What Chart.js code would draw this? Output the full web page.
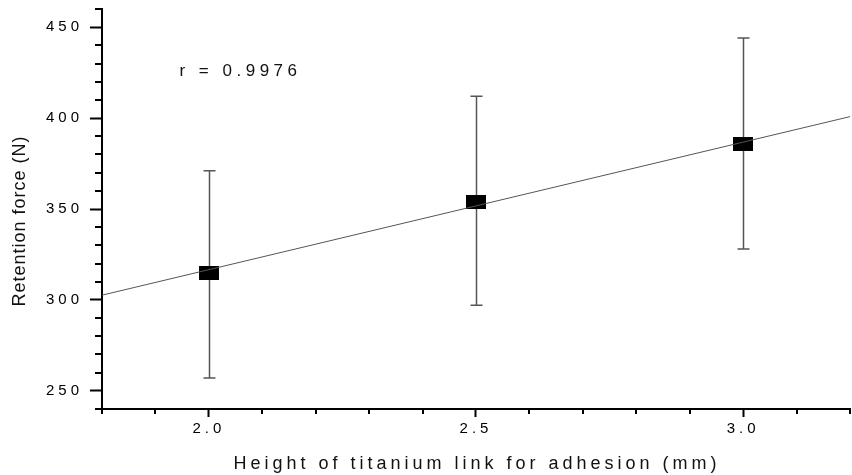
<!DOCTYPE html>
<html>
<head>
<meta charset="utf-8">
<script src="https://cdn.jsdelivr.net/npm/chart.js@4/dist/chart.umd.min.js"></script>
<style>
  html, body { margin: 0; padding: 0; background: #fff; }
  canvas { display: block; }
</style>
</head>
<body>
<canvas id="chart" width="852" height="475"></canvas>
<script>
// 데이터
const heights = [2.0, 2.5, 3.0];
const meanForce = [315, 354, 386];
const errLow = [257, 297, 328];
const errHigh = [371, 412, 444];

// 회귀선 양 끝점
const fitX = [1.8, 3.2];
const fitY = [302.6, 400.8];

// 축 눈금
const xMajor = [2.0, 2.5, 3.0];
const xMinor = [1.8, 1.9, 2.1, 2.2, 2.3, 2.4, 2.6, 2.7, 2.8, 2.9, 3.1, 3.2];
const yMajor = [250, 300, 350, 400, 450];
const yMinor = [240, 260, 270, 280, 290, 310, 320, 330, 340, 360, 370, 380, 390, 410, 420, 430, 440, 460];

const xTitle = 'Height of titanium link for adhesion (mm)';
const yTitle = 'Retention force (N)';
const rLabel = 'r = 0.9976';

const FONT = '"Liberation Sans", Arial, sans-serif';

// 사각형 마커 (20x14)
const marker = document.createElement('canvas');
marker.width = 20;
marker.height = 14;
const mctx = marker.getContext('2d');
mctx.fillStyle = '#000';
mctx.fillRect(0, 0, 20, 14);

// 에러바 + 보조 눈금 + 텍스트
const extrasPlugin = {
    id: 'extras',
    beforeDraw(chart) {
        chart.ctx.letterSpacing = '4px';
    },
    beforeDatasetsDraw(chart) {
        const ctx = chart.ctx;
        const xs = chart.scales.x, ys = chart.scales.y;
        ctx.save();
        ctx.strokeStyle = '#555';
        ctx.lineWidth = 1.5;
        heights.forEach((h, i) => {
            const px = Math.round(xs.getPixelForValue(h)) + 0.5;
            const top = ys.getPixelForValue(errHigh[i]);
            const bot = ys.getPixelForValue(errLow[i]);
            ctx.beginPath();
            ctx.moveTo(px, top); ctx.lineTo(px, bot);
            ctx.moveTo(px - 6, top); ctx.lineTo(px + 6, top);
            ctx.moveTo(px - 6, bot); ctx.lineTo(px + 6, bot);
            ctx.stroke();
        });
        ctx.restore();
    },
    afterDraw(chart) {
        const ctx = chart.ctx;
        const xs = chart.scales.x, ys = chart.scales.y;
        const area = chart.chartArea;
        ctx.save();
        ctx.strokeStyle = '#000';
        ctx.lineWidth = 2;
        ctx.beginPath();
        yMinor.forEach(v => {
            const py = Math.round(ys.getPixelForValue(v));
            ctx.moveTo(area.left - 7, py); ctx.lineTo(area.left, py);
        });
        xMinor.forEach(v => {
            const px = Math.round(xs.getPixelForValue(v));
            ctx.moveTo(px, area.bottom); ctx.lineTo(px, area.bottom + 5);
        });
        ctx.stroke();

        ctx.fillStyle = '#111';
        // r 값
        ctx.letterSpacing = '4.5px';
        ctx.font = '17px ' + FONT;
        ctx.textAlign = 'left';
        ctx.textBaseline = 'middle';
        ctx.fillText(rLabel, xs.getPixelForValue(1.945), ys.getPixelForValue(425.5));

        // x 축 제목
        ctx.letterSpacing = '4px';
        ctx.font = '18px ' + FONT;
        ctx.textAlign = 'center';
        ctx.fillText(xTitle, 477, 464);

        // y 축 제목
        ctx.letterSpacing = '1px';
        ctx.translate(20, 221);
        ctx.rotate(-Math.PI / 2);
        ctx.fillText(yTitle, 0, 0);
        ctx.restore();
    }
};

new Chart(document.getElementById('chart'), {
    type: 'scatter',
    data: {
        datasets: [
            {
                type: 'line',
                label: 'fit',
                data: fitX.map((x, i) => ({ x: x, y: fitY[i] })),
                borderColor: '#555',
                borderWidth: 1,
                pointRadius: 0,
                fill: false
            },
            {
                label: 'retention',
                data: heights.map((h, i) => ({ x: h, y: meanForce[i] })),
                pointStyle: marker,
                pointRadius: 10,
                backgroundColor: '#000',
                borderColor: '#000'
            }
        ]
    },
    options: {
        responsive: false,
        devicePixelRatio: 1,
        animation: false,
        layout: { autoPadding: false, padding: { left: 0, top: 9, right: 2, bottom: 0 } },
        plugins: {
            legend: { display: false },
            tooltip: { enabled: false }
        },
        scales: {
            x: {
                type: 'linear',
                min: 1.8,
                max: 3.2,
                afterBuildTicks: s => { s.ticks = xMajor.map(v => ({ value: v })); },
                afterFit: s => { s.height = 66; s.paddingLeft = 0; s.paddingRight = 0; },
                border: { display: true, color: '#000', width: 2 },
                grid: { drawOnChartArea: false, tickLength: 8, tickWidth: 2, tickColor: '#000' },
                ticks: {
                    color: '#000',
                    font: { family: FONT, size: 15 },
                    padding: 3,
                    maxRotation: 0,
                    callback: v => v.toFixed(1)
                }
            },
            y: {
                type: 'linear',
                min: 240,
                max: 460,
                afterBuildTicks: s => { s.ticks = yMajor.map(v => ({ value: v })); },
                afterFit: s => { s.width = 102; s.paddingTop = 0; s.paddingBottom = 0; },
                border: { display: true, color: '#000', width: 2 },
                grid: { drawOnChartArea: false, tickLength: 12, tickWidth: 2, tickColor: '#000' },
                ticks: {
                    color: '#000',
                    font: { family: FONT, size: 15 },
                    padding: 7,
                    callback: v => String(v)
                }
            }
        }
    },
    plugins: [extrasPlugin]
});
</script>
</body>
</html>
